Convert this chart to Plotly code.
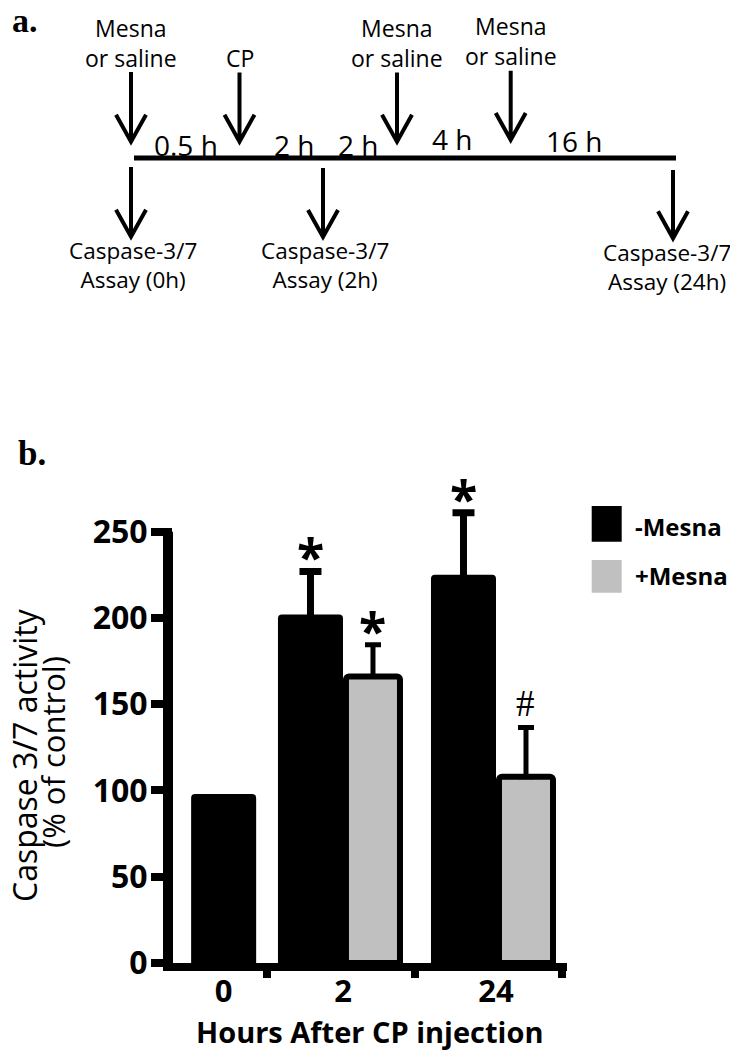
import plotly.graph_objects as go

# ---------------- data ----------------
HOURS = ["0", "2", "24"]
MINUS_MESNA = [98, 202, 225]
MINUS_ERR = [None, 25, 36]
MINUS_MARK = ["", "*", "*"]

PLUS_HOURS = ["2", "24"]
PLUS_MESNA = [166, 108]
PLUS_ERR = [18.5, 28.5]
PLUS_MARK = ["*", "#"]

Y_TICKS = [0, 50, 100, 150, 200, 250]

TOP_LABELS = ["Mesna<br>or saline", "CP", "Mesna<br>or saline", "Mesna<br>or saline"]
INTERVAL_LABELS = ["0.5 h", "2 h", "2 h", "4 h", "16 h"]
ASSAY_LABELS = ["Caspase-3/7<br>Assay (0h)", "Caspase-3/7<br>Assay (2h)", "Caspase-3/7<br>Assay (24h)"]

# ---------------- layout constants ----------------
W, H = 730, 1050
BLACK = "black"
GRAY = "#c0c0c0"
FONT = "Open Sans"

GROUP_X = {"0": 0.22, "2": 1.0, "24": 2.0}
BLACK_W = 0.425
GRAY_W = 0.353
BLACK_OFF = -0.2125
GRAY_OFF = 0.196
BOUNDARIES = [0.503, 1.471, 2.431]
X_RANGE = [-0.111, 2.464]
Y_AXIS_MAX = 250          # where the drawn axis line stops
Y_TOP = 265               # plotting range (room for the tallest error bar)
PX_PER_UNIT = 1.7252
X_DOMAIN = [173 / W, 567 / W]
Y_BOTTOM_PX = 963
Y_DOMAIN = [1 - Y_BOTTOM_PX / H, 1 - (Y_BOTTOM_PX - Y_TOP * PX_PER_UNIT) / H]
PLOT_H_PX = (Y_DOMAIN[1] - Y_DOMAIN[0]) * H


def PX(x):
    return x / W


def PY(y):
    return 1 - y / H


paired = set(PLUS_HOURS)
black_x = [GROUP_X[h] + (BLACK_OFF if h in paired else 0.0) for h in HOURS]
gray_x = [GROUP_X[h] + GRAY_OFF for h in PLUS_HOURS]

fig = go.Figure()

idx_ne = [i for i, e in enumerate(MINUS_ERR) if e is None]
idx_e = [i for i, e in enumerate(MINUS_ERR) if e is not None]
fig.add_trace(go.Bar(
    x=[black_x[i] for i in idx_ne], y=[MINUS_MESNA[i] for i in idx_ne],
    width=BLACK_W, name="-Mesna", showlegend=False,
    marker=dict(color=BLACK, line=dict(width=0), cornerradius=4),
))
fig.add_trace(go.Bar(
    x=[black_x[i] for i in idx_e], y=[MINUS_MESNA[i] for i in idx_e],
    width=BLACK_W, name="-Mesna", showlegend=False,
    marker=dict(color=BLACK, line=dict(width=0), cornerradius=4),
    error_y=dict(type="data", symmetric=True,
                 array=[MINUS_ERR[i] for i in idx_e],
                 color=BLACK, thickness=7, width=11),
))
fig.add_trace(go.Bar(
    x=gray_x, y=PLUS_MESNA, width=GRAY_W, name="+Mesna", showlegend=False,
    xaxis="x2",
    marker=dict(color=GRAY, line=dict(color=BLACK, width=6), cornerradius=3),
    error_y=dict(type="data", symmetric=False, array=PLUS_ERR,
                 arrayminus=[0] * len(PLUS_ERR),
                 color=BLACK, thickness=5, width=8),
))

annotations = []


def mark_ann(x, y, mark, xref):
    if not mark:
        return None
    if mark == "*":
        font = dict(family=FONT, size=50, color=BLACK, weight="bold")
        shift = 15
    else:
        font = dict(family="Liberation Serif", size=37, color=BLACK)
        shift = 24
    return dict(x=x, y=y, xref=xref, yref="y", text=mark, showarrow=False,
                xanchor="center", yanchor="middle", yshift=shift, font=font)


for i, h in enumerate(HOURS):
    if MINUS_ERR[i] is not None:
        a = mark_ann(black_x[i], MINUS_MESNA[i] + MINUS_ERR[i], MINUS_MARK[i], "x")
        if a:
            annotations.append(a)
for i, h in enumerate(PLUS_HOURS):
    a = mark_ann(gray_x[i], PLUS_MESNA[i] + PLUS_ERR[i], PLUS_MARK[i], "x2")
    if a:
        annotations.append(a)

# axis titles
annotations.append(dict(x=PX(24), y=PY(755), xref="paper", yref="paper",
                        text="Caspase 3/7 activity", textangle=-90, showarrow=False,
                        xanchor="center", yanchor="middle",
                        font=dict(family=FONT, size=32, color=BLACK)))
annotations.append(dict(x=PX(53), y=PY(752), xref="paper", yref="paper",
                        text="(% of control)", textangle=-90, showarrow=False,
                        xanchor="center", yanchor="middle",
                        font=dict(family=FONT, size=31, color=BLACK)))
annotations.append(dict(x=PX(369), y=PY(1031), xref="paper", yref="paper",
                        text="Hours After CP injection", showarrow=False,
                        xanchor="center", yanchor="middle",
                        font=dict(family=FONT, size=29, color=BLACK, weight="bold")))

shapes = []
# y-axis line, ending at the 250 tick
shapes.append(dict(type="line", xref="paper", yref="y domain",
                   x0=X_DOMAIN[0] - 5 / W, x1=X_DOMAIN[0] - 5 / W,
                   y0=-8 / PLOT_H_PX, y1=Y_AXIS_MAX / Y_TOP,
                   line=dict(color=BLACK, width=10), layer="above"))

# legend
shapes.append(dict(type="rect", xref="paper", yref="paper",
                   x0=PX(591.7), x1=PX(621.7), y0=PY(541.7), y1=PY(506),
                   fillcolor=BLACK, line=dict(width=0)))
shapes.append(dict(type="rect", xref="paper", yref="paper",
                   x0=PX(591.7), x1=PX(621.7), y0=PY(592.7), y1=PY(560),
                   fillcolor=GRAY, line=dict(width=0)))
for txt, yc in [("-Mesna", 526.7), ("+Mesna", 575)]:
    annotations.append(dict(x=PX(633), y=PY(yc), xref="paper", yref="paper",
                            text=txt, showarrow=False, xanchor="left", yanchor="middle",
                            font=dict(family=FONT, size=24, color=BLACK, weight="bold")))

# panel labels
annotations.append(dict(x=PX(25), y=PY(20), xref="paper", yref="paper", text="a.",
                        showarrow=False, xanchor="center", yanchor="middle",
                        font=dict(family="Liberation Serif", size=34, color=BLACK, weight="bold")))
annotations.append(dict(x=PX(32), y=PY(454), xref="paper", yref="paper", text="b.",
                        showarrow=False, xanchor="center", yanchor="middle",
                        font=dict(family="Liberation Serif", size=35, color=BLACK, weight="bold")))


# ---------------- timeline (panel a) ----------------
def arrow(x, y0, y1, w=4):
    p = (f"M {PX(x)},{PY(y0)} L {PX(x)},{PY(y1)} "
         f"M {PX(x - 15)},{PY(y1 - 27)} L {PX(x)},{PY(y1)} L {PX(x + 15)},{PY(y1 - 27)}")
    return dict(type="path", xref="paper", yref="paper", path=p,
                line=dict(color=BLACK, width=w))


shapes.append(dict(type="line", xref="paper", yref="paper",
                   x0=PX(134), x1=PX(676), y0=PY(158), y1=PY(158),
                   line=dict(color=BLACK, width=5)))

top_x = [131, 239.5, 397, 510.7]
top_y0 = [72, 72.5, 72.5, 70.7]
top_y1 = [141.7, 141.7, 141.7, 140]
top_text_y = [43, 57.7, 43, 41]
for lbl, x, y0, y1, ty in zip(TOP_LABELS, top_x, top_y0, top_y1, top_text_y):
    shapes.append(arrow(x, y0, y1))
    annotations.append(dict(x=PX(x), y=PY(ty), xref="paper", yref="paper", text=lbl,
                            showarrow=False, xanchor="center", yanchor="middle",
                            font=dict(family=FONT, size=23, color=BLACK)))

int_x = [186, 294, 358, 451.7, 574]
int_y = [145, 144.5, 144.5, 139, 141]
for lbl, x, y in zip(INTERVAL_LABELS, int_x, int_y):
    annotations.append(dict(x=PX(x), y=PY(y), xref="paper", yref="paper", text=lbl,
                            showarrow=False, xanchor="center", yanchor="middle",
                            font=dict(family=FONT, size=28, color=BLACK)))

bot_x = [131, 323, 673]
bot_y0 = [167, 168, 170]
bot_y1 = [236.7, 237, 238.3]
bot_tx = [133, 325, 667]
bot_ty = [265, 265, 267]
for lbl, x, y0, y1, tx, ty in zip(ASSAY_LABELS, bot_x, bot_y0, bot_y1, bot_tx, bot_ty):
    shapes.append(arrow(x, y0, y1))
    annotations.append(dict(x=PX(tx), y=PY(ty), xref="paper", yref="paper", text=lbl,
                            showarrow=False, xanchor="center", yanchor="middle",
                            font=dict(family=FONT, size=22.5, color=BLACK)))

fig.update_layout(
    template="none",
    width=W, height=H,
    margin=dict(l=0, r=0, t=0, b=0),
    paper_bgcolor="white", plot_bgcolor="white",
    barmode="overlay",
    showlegend=False,
    font=dict(family=FONT, color=BLACK),
    xaxis=dict(domain=X_DOMAIN, range=X_RANGE, anchor="y",
               showline=True, linewidth=8, linecolor=BLACK,
               tickmode="array", tickvals=[GROUP_X[h] for h in HOURS], ticktext=HOURS,
               ticks="", ticklabelstandoff=-6,
               showgrid=False, zeroline=False, automargin=False,
               tickfont=dict(family=FONT, size=31, color=BLACK, weight="bold")),
    xaxis2=dict(overlaying="x", anchor="y", range=X_RANGE, matches="x",
                showline=False, tickmode="array", tickvals=BOUNDARIES,
                ticks="outside", ticklen=14, tickwidth=8, tickcolor=BLACK,
                showticklabels=False, showgrid=False, zeroline=False, automargin=False),
    yaxis=dict(domain=Y_DOMAIN, range=[0, Y_TOP], anchor="x",
               showline=False,
               tickmode="array", tickvals=Y_TICKS,
               ticks="outside", ticklen=21, tickwidth=8, tickcolor=BLACK,
               ticklabelstandoff=-3,
               showgrid=False, zeroline=False, automargin=False,
               tickfont=dict(family=FONT, size=32, color=BLACK, weight="bold")),
    annotations=annotations,
    shapes=shapes,
)

fig.write_html(
    "out.html",
    config={"displayModeBar": False},
    post_script="document.body.style.margin='0px';document.body.style.padding='0px';"
                "document.documentElement.style.overflow='hidden';",
)
